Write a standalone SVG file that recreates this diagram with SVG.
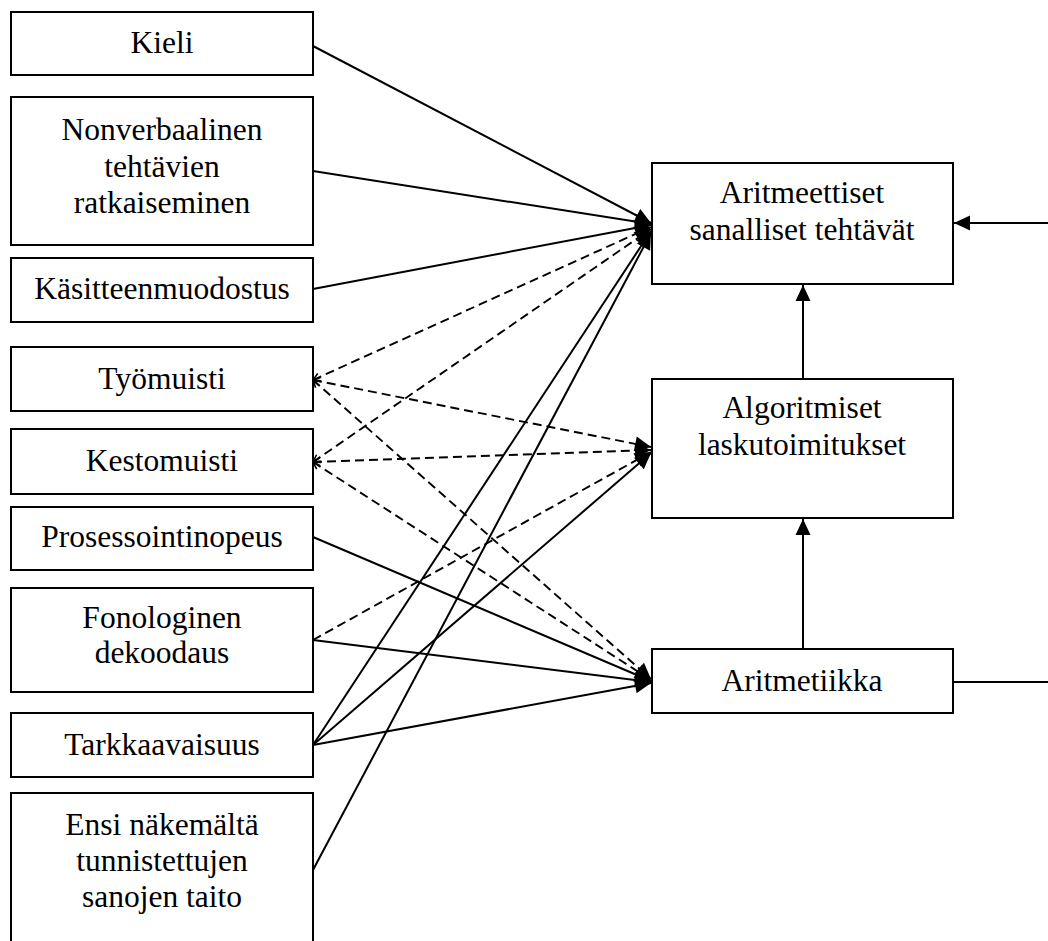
<svg xmlns="http://www.w3.org/2000/svg" width="1048" height="941" viewBox="0 0 1048 941">
<style>
.box{fill:#fff;stroke:#000;stroke-width:2}
.t{font-family:"Liberation Serif","Times New Roman",serif;font-size:31.5px;fill:#000;text-anchor:middle}
.c{fill:none;stroke:#000;stroke-width:2}
.s{marker-end:url(#ah)}
.d{stroke-dasharray:9 5;stroke-width:1.9;marker-end:url(#ah);marker-start:url(#oh)}
.d2{stroke-dasharray:9 5;stroke-width:1.9;marker-end:url(#ah)}
</style>
<defs>
<marker id="ah" markerUnits="userSpaceOnUse" viewBox="-17 -9 18 18" refX="0" refY="0" markerWidth="18" markerHeight="18" orient="auto">
<path d="M0,0 L-16,-7.5 L-16,7.5 Z" fill="#000"/>
</marker>
<marker id="oh" markerUnits="userSpaceOnUse" viewBox="-9 -6 10 12" refX="0" refY="0" markerWidth="10" markerHeight="12" orient="auto-start-reverse">
<path d="M-7,-4 L0,0 L-7,4" fill="none" stroke="#000" stroke-width="1.6"/>
</marker>
</defs>
<g id="connectors">
<line class="c s" x1="313" y1="46" x2="651" y2="223"/>
<line class="c s" x1="313" y1="171" x2="651" y2="224"/>
<line class="c s" x1="313" y1="289" x2="651" y2="225"/>
<line class="c d" x1="313" y1="380" x2="651" y2="227"/>
<line class="c d" x1="313" y1="380" x2="651" y2="447"/>
<line class="c d" x1="313" y1="380" x2="651" y2="679"/>
<line class="c d" x1="313" y1="462" x2="651" y2="229"/>
<line class="c d" x1="313" y1="462" x2="651" y2="450"/>
<line class="c d" x1="313" y1="462" x2="651" y2="680"/>
<line class="c s" x1="313" y1="537" x2="651" y2="681"/>
<line class="c d2" x1="313" y1="640" x2="651" y2="452"/>
<line class="c s" x1="313" y1="640" x2="651" y2="682"/>
<line class="c s" x1="313" y1="745" x2="651" y2="231"/>
<line class="c s" x1="313" y1="745" x2="651" y2="453"/>
<line class="c s" x1="313" y1="745" x2="651" y2="683"/>
<line class="c s" x1="313" y1="870" x2="651" y2="233"/>
<line class="c s" x1="803" y1="379" x2="803" y2="285"/>
<line class="c s" x1="803" y1="649" x2="803" y2="519"/>
<polyline class="c s" points="953,682 1050,682 1050,223 954,223"/>
</g>
<g id="kieli"><rect class="box" x="11" y="12" width="302" height="63"/><text class="t" x="162" y="53">Kieli</text></g>
<g id="nonverbaalinen"><rect class="box" x="11" y="97" width="302" height="148"/><text class="t" x="162" y="140">Nonverbaalinen</text><text class="t" x="162" y="177">tehtävien</text><text class="t" x="162" y="213">ratkaiseminen</text></g>
<g id="kasitteenmuodostus"><rect class="box" x="11" y="258" width="302" height="64"/><text class="t" x="162" y="299">Käsitteenmuodostus</text></g>
<g id="tyomuisti"><rect class="box" x="11" y="347" width="302" height="64"/><text class="t" x="162" y="389">Työmuisti</text></g>
<g id="kestomuisti"><rect class="box" x="11" y="429" width="302" height="65"/><text class="t" x="162" y="471">Kestomuisti</text></g>
<g id="prosessointinopeus"><rect class="box" x="11" y="507" width="302" height="63"/><text class="t" x="162" y="547">Prosessointinopeus</text></g>
<g id="fonologinen"><rect class="box" x="11" y="588" width="302" height="104"/><text class="t" x="162" y="628">Fonologinen</text><text class="t" x="162" y="663">dekoodaus</text></g>
<g id="tarkkaavaisuus"><rect class="box" x="11" y="713" width="302" height="64"/><text class="t" x="162" y="755">Tarkkaavaisuus</text></g>
<g id="ensi"><rect class="box" x="11" y="793" width="302" height="160"/><text class="t" x="162" y="835">Ensi näkemältä</text><text class="t" x="162" y="871">tunnistettujen</text><text class="t" x="162" y="907">sanojen taito</text></g>
<g id="aritmeettiset"><rect class="box" x="652" y="163" width="301" height="121"/><text class="t" x="802" y="203">Aritmeettiset</text><text class="t" x="802" y="240">sanalliset tehtävät</text></g>
<g id="algoritmiset"><rect class="box" x="652" y="379" width="301" height="139"/><text class="t" x="802" y="418">Algoritmiset</text><text class="t" x="802" y="455">laskutoimitukset</text></g>
<g id="aritmetiikka"><rect class="box" x="652" y="649" width="301" height="64"/><text class="t" x="802" y="691">Aritmetiikka</text></g>
</svg>
